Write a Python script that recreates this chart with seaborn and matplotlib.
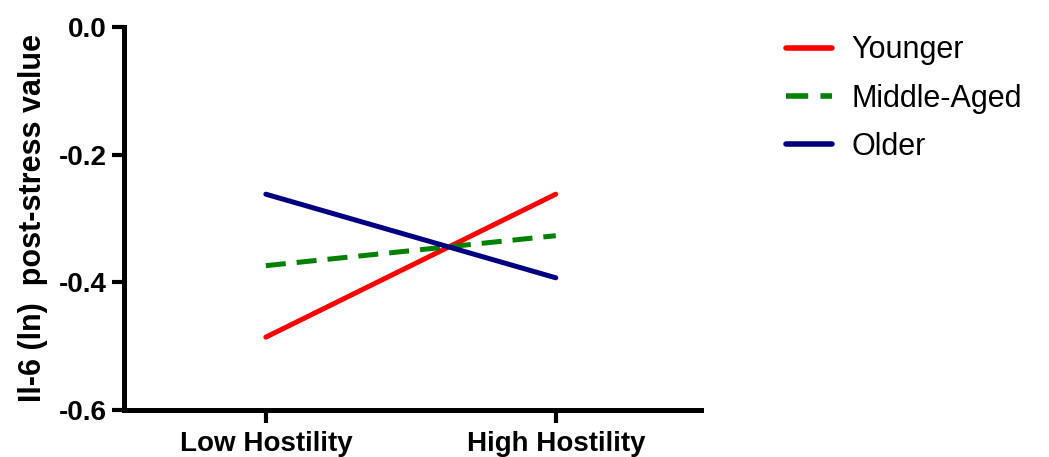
import matplotlib
matplotlib.use('Agg')
import matplotlib.pyplot as plt
import seaborn as sns
import pandas as pd

# data
hostility = ['Low Hostility', 'High Hostility']
younger = [-0.486, -0.262]
middle_aged = [-0.374, -0.327]
older = [-0.262, -0.393]
groups = ['Younger', 'Middle-Aged', 'Older']

df = pd.DataFrame({
    'Hostility': hostility * 3,
    'x': [0, 1] * 3,
    'IL6': younger + middle_aged + older,
    'Group': [g for g in groups for _ in hostility],
})

sns.set_style('ticks')
plt.rcParams['font.family'] = ['Liberation Sans', 'DejaVu Sans']
plt.rcParams['text.color'] = 'black'
plt.rcParams['axes.labelcolor'] = 'black'
plt.rcParams['xtick.color'] = 'black'
plt.rcParams['ytick.color'] = 'black'
plt.rcParams['axes.edgecolor'] = 'black'

fig = plt.figure(figsize=(10.49, 4.57), dpi=100)
ax = fig.add_axes([0.118, 0.103, 0.55, 0.838])

palette = {'Younger': '#ff0000', 'Middle-Aged': '#008000', 'Older': '#000080'}
sns.lineplot(data=df, x='x', y='IL6', hue='Group', style='Group',
             palette=palette, dashes={'Younger': '', 'Middle-Aged': (4, 2.2), 'Older': ''},
             linewidth=3.6, ax=ax)

ax.set_xlim(-0.49, 1.5)
ax.set_ylim(-0.6, 0.0)
ax.set_xticks([0, 1])
ax.set_xticklabels(hostility, fontsize=20, fontweight='bold')
ax.set_yticks([0.0, -0.2, -0.4, -0.6])
ax.set_yticklabels(['0.0', '-0.2', '-0.4', '-0.6'], fontsize=20, fontweight='bold')
ax.set_xlabel('')
ax.set_ylabel('Il-6 (ln)  post-stress value', fontsize=22, fontweight='bold', labelpad=8)

for s in ['top', 'right']:
    ax.spines[s].set_visible(False)
for s in ['left', 'bottom']:
    ax.spines[s].set_linewidth(3.6)
ax.tick_params(axis='both', width=3, length=9, direction='out', pad=3)
ax.tick_params(axis='x', pad=6)

leg = ax.legend(loc='upper left', bbox_to_anchor=(1.10, 1.05), frameon=False,
                fontsize=22, handlelength=1.5, handletextpad=0.65, labelspacing=0.6)
for line in leg.get_lines():
    line.set_linewidth(4)

fig.savefig('out.png', dpi=100)
